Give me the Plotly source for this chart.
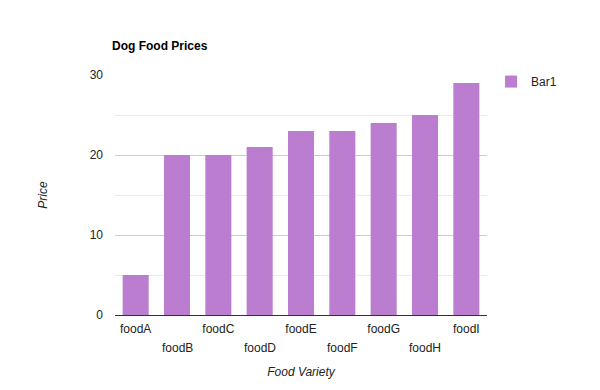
import plotly.graph_objects as go

categories = ["foodA", "foodB", "foodC", "foodD", "foodE", "foodF", "foodG", "foodH", "foodI"]
prices = [5, 20, 20, 21, 23, 23, 24, 25, 29]
y_ticks = [0, 10, 20, 30]
series_name = "Bar1"

# staggered category labels: even ones as ticks, odd ones on a second row
ticktext = [c if i % 2 == 0 else "" for i, c in enumerate(categories)]

font = "Liberation Sans, Arial, sans-serif"

fig = go.Figure()
fig.add_trace(go.Bar(
    x=categories, y=prices, name=series_name,
    marker=dict(color="#bb7dcf", line=dict(width=0)),
    showlegend=True,
))

for i, c in enumerate(categories):
    if i % 2 == 1:
        fig.add_annotation(x=c, y=0, xref="x", yref="y", text=c, showarrow=False,
                           yanchor="middle", xanchor="center", yshift=-33,
                           font=dict(family=font, size=12, color="#222222"))

fig.update_layout(
    width=600, height=390,
    margin=dict(l=107, r=121, t=67, b=83),
    paper_bgcolor="white", plot_bgcolor="white",
    font=dict(family=font, size=12, color="#222222"),
    title=dict(text="<b>Dog Food Prices</b>", x=104/600, xanchor="left",
               y=1 - 38/390, yanchor="middle", font=dict(size=12, color="#000000")),
    bargap=0.37,
    legend=dict(x=1.011, xanchor="left", y=1.033, yanchor="top",
                font=dict(size=12, color="#222222"), bgcolor="rgba(0,0,0,0)"),
    xaxis=dict(
        tickmode="array", tickvals=categories, ticktext=ticktext,
        showgrid=False, ticks="", showline=True, linecolor="#333333", linewidth=1,
        ticklabelstandoff=3,
        title=dict(text="<i>Food Variety</i>", font=dict(size=12), standoff=32),
        tickfont=dict(size=12),
    ),
    yaxis=dict(
        range=[0, 30], tickvals=y_ticks, showgrid=True, gridcolor="#cccccc",
        minor=dict(dtick=5, showgrid=True, gridcolor="#ebebeb", ticks=""),
        zeroline=False, ticks="", ticklen=0, ticklabelstandoff=11,
        title=dict(text="<i>Price</i>", font=dict(size=12), standoff=39),
        tickfont=dict(size=12),
    ),
)

fig.write_html("out.html")
